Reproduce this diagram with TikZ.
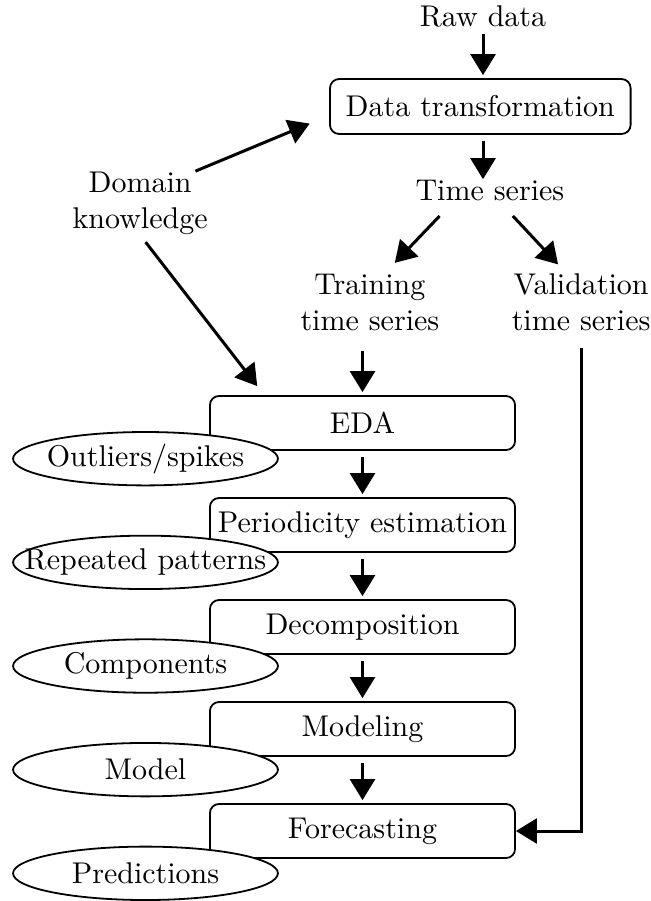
\documentclass[tikz,border=0pt]{standalone}
\usepackage{tikz}
\usetikzlibrary{arrows.meta,positioning,shapes.geometric}

\newcommand{\ovtext}[1]{\makebox[0pt]{#1}}

\begin{document}
\begin{tikzpicture}[x=1pt, y=1pt,
      proc/.style={draw, semithick, rounded corners=3pt,
                   minimum width=101.7pt, minimum height=18pt, inner sep=0pt},
      res/.style={draw, semithick, fill=white, ellipse,
                  minimum width=88.3pt, minimum height=17.8pt, inner sep=0pt},
      lbl/.style={inner sep=0pt, align=center},
      arr/.style={-{Triangle[length=7pt, width=8.3pt]}, line width=1pt,
                  shorten <=2pt, shorten >=1pt}
  ]
    \useasboundingbox (0,0) rectangle (216.67,-300.33);
    % inputs
    \node[lbl, anchor=base] (raw) at (161,-8.9) {Raw data};
    \node[proc, minimum width=100.2pt, minimum height=18.3pt] (dt) at (160.1,-35.5) {Data transformation};
    \node[lbl, anchor=base] (ts) at (163.3,-66.7) {Time series};
    \node[lbl] (dk) at (46.7,-67.7) {Domain\\ knowledge};
    \node[lbl] (train) at (123.3,-100.7) {Training\\ time series};
    \node[lbl] (val) at (193.7,-100.7) {Validation\\ time series};
    % analysis steps
    \node[proc] (eda) at (120.83,-141) {EDA};
    \node[proc, below=15.4pt of eda] (per) {Periodicity estimation};
    \node[proc, below=15.4pt of per] (dec) {Decomposition};
    \node[proc, below=15.4pt of dec] (mod) {Modeling};
    \node[proc, below=15.4pt of mod] (fc) {Forecasting};
    % results
    \node[res] (out) at (48.5,-152.9) {\ovtext{Outliers/spikes}};
    \node[res, below=16.15pt of out] (rep) {\ovtext{Repeated patterns}};
    \node[res, below=16.15pt of rep] (comp) {\ovtext{Components}};
    \node[res, below=16.15pt of comp] (mdl) {\ovtext{Model}};
    \node[res, below=16.15pt of mdl] (pred) {\ovtext{Predictions}};

    \draw[arr] (raw.south) -- (raw.south |- dt.north);
    \draw[arr, shorten >=0pt] (dt.south -| raw) -- (ts.north -| raw);
    \draw[arr, shorten <=6.9pt, shorten >=4.75pt] ([xshift=-12pt]ts.south) -- ([xshift=5pt]train.north);
    \draw[arr, shorten <=6.8pt, shorten >=3.9pt] ([xshift=3pt]ts.south) -- ([xshift=-5pt]val.north);
    \draw[arr, shorten <=0pt, shorten >=7pt] (dk.30) -- ([yshift=-3pt]dt.west);
    \draw[arr, shorten <=3pt, shorten >=3.8pt] (dk.south) -- ([xshift=18.4pt]eda.north west);
    \draw[arr, shorten <=6.7pt] (train.south -| eda) -- (eda.north);
    \draw[arr] (eda) -- (per); \draw[arr] (per) -- (dec);
    \draw[arr] (dec) -- (mod); \draw[arr] (mod) -- (fc);
    \draw[arr, shorten <=5.7pt, shorten >=0pt] (val.south) |- (fc.east);
  \end{tikzpicture}
\end{document}
